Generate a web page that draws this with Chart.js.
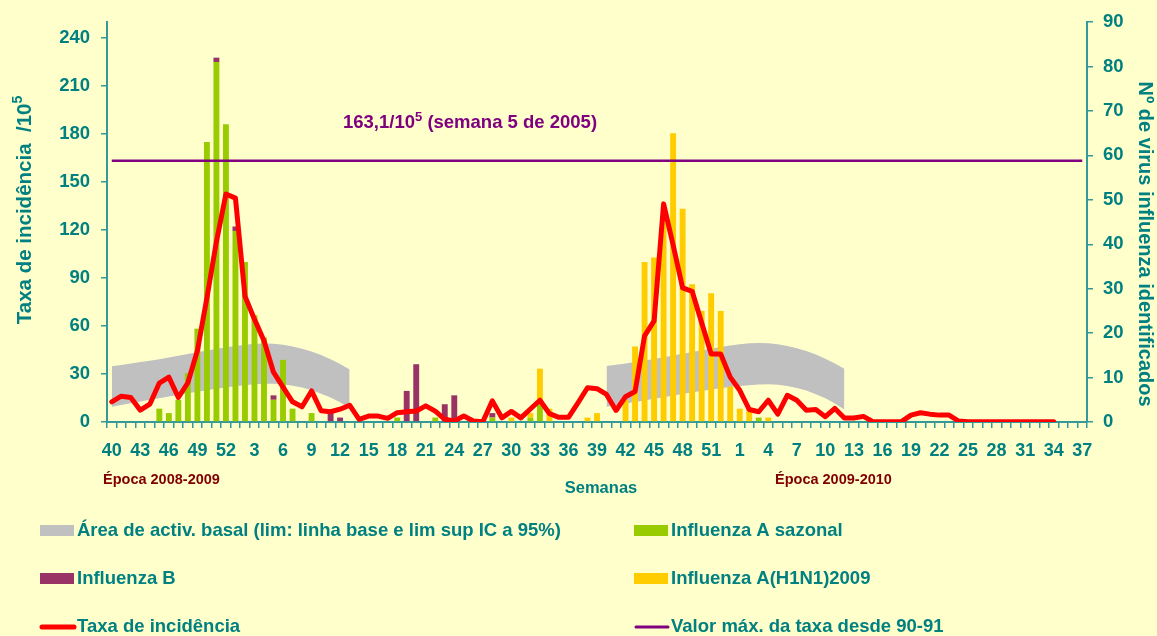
<!DOCTYPE html>
<html>
<head>
<meta charset="utf-8">
<script src="https://cdn.jsdelivr.net/npm/chart.js@4.4.1/dist/chart.umd.min.js"></script>
<style>
  body { margin: 0; background: #FFFFCC; }
  canvas { display: block; }
</style>
</head>
<body>
<canvas id="gripeChart" width="1157" height="636"></canvas>
<script>
// Semanas: 2008 (40-52), 2009 (1-53), 2010 (1-37)
const weeks = [
  40, 41, 42, 43, 44, 45, 46, 47, 48, 49, 50, 51, 52,
  1, 2, 3, 4, 5, 6, 7, 8, 9, 10, 11, 12, 13, 14, 15, 16, 17, 18, 19, 20,
  21, 22, 23, 24, 25, 26, 27, 28, 29, 30, 31, 32, 33, 34, 35, 36, 37, 38, 39, 40,
  41, 42, 43, 44, 45, 46, 47, 48, 49, 50, 51, 52, 53,
  1, 2, 3, 4, 5, 6, 7, 8, 9, 10, 11, 12, 13, 14, 15, 16, 17, 18, 19, 20,
  21, 22, 23, 24, 25, 26, 27, 28, 29, 30, 31, 32, 33, 34, 35, 36, 37
];

// Taxa de incidência /10^5 (eixo esquerdo)
const taxa = [
  12.6, 16.1, 15.3, 7.4, 11.1, 24.3, 28.0, 15.3, 24.5, 44.5, 77.5, 112.6, 142.4,
  139.8, 78.5, 64.1, 50.7, 31.1, 21.8, 12.6, 9.5, 19.4, 7.0,
  6.4, 8.0, 10.5, 1.7, 3.7, 3.7, 2.3, 5.8, 6.4, 6.8,
  10.1, 6.8, 1.7, 0.6, 3.7, 0.6, 0.2, 13.2, 2.6, 6.6,
  2.6, 8.1, 13.6, 5.2, 2.9, 2.9, 12.0, 21.4, 20.8, 17.2,
  7.2, 15.8, 19.0, 53.8, 63.1, 136.2, 110.5, 83.7, 81.6, 62.0,
  42.5, 42.5, 28.0,
  19.8, 7.8, 6.4, 13.6, 4.9, 16.7, 13.6, 7.4, 7.8, 3.3,
  8.5, 2.5, 2.5, 3.5, 0.2, 0.2, 0.2, 0.2, 4.3, 5.8,
  4.9, 4.3, 4.3, 0.6, 0.2, 0.2, 0.2, 0.2, 0.2, 0.2,
  0.2, 0.2, 0.2, 0.2, null, null, null
];

// Nº de vírus identificados (eixo direito)
const fluASazonal = [
  0, 0, 0, 0, 0, 3, 2, 5, 11, 21, 63, 81, 67,
  43, 36, 24, 19, 5, 14, 3, 0, 2, 0,
  0, 0, 0, 0, 0, 0, 0, 1, 0, 0,
  0, 1, 0, 0, 0, 0, 0, 1, 0, 0,
  0, 1, 4, 0, 0, 0, 0, 0, 0, 0,
  0, 0, 0, 0, 0, 0, 0, 0, 0, 0,
  0, 0, 0,
  0, 0, 1, 0, 0, 0, 0, 0, 0, 0,
  0, 0, 0, 0, 0, 0, 0, 0, 0, 0,
  0, 0, 0, 0, 0, 0, 0, 0, 0, 0,
  0, 0, 0, 0, 0, 0, 0
];
const fluB = [
  0, 0, 0, 0, 0, 0, 0, 0, 0, 0, 0, 1, 0,
  1, 0, 0, 0, 1, 0, 0, 0, 0, 0,
  2, 1, 0, 0, 0, 0, 0, 0, 7, 13,
  0, 0, 4, 6, 0, 0, 0, 1, 0, 0,
  0, 0, 0, 0, 0, 0, 0, 0, 0, 0,
  0, 0, 0, 0, 0, 0, 0, 0, 0, 0,
  0, 0, 0,
  0, 0, 0, 0, 0, 0, 0, 0, 0, 0,
  0, 0, 0, 0, 0, 0, 0, 0, 0, 0,
  0, 0, 0, 0, 0, 0, 0, 0, 0, 0,
  0, 0, 0, 0, 0, 0, 0
];
const fluH1N1 = [
  0, 0, 0, 0, 0, 0, 0, 0, 0, 0, 0, 0, 0,
  0, 0, 0, 0, 0, 0, 0, 0, 0, 0,
  0, 0, 0, 0, 0, 0, 0, 0, 0, 0,
  0, 0, 0, 0, 0, 0, 0, 0, 0, 1,
  0, 1, 8, 3, 0, 0, 0, 1, 2, 0,
  0, 5, 17, 36, 37, 46, 65, 48, 31, 25,
  29, 25, 8,
  3, 3, 0, 1, 0, 0, 0, 0, 0, 0,
  0, 0, 0, 0, 0, 0, 0, 0, 0, 0,
  0, 0, 0, 0, 0, 0, 0, 0, 0, 0,
  0, 0, 0, 0, 0, 0, 0
];

// Área de actividade basal (semana 40 a semana 12/13)
const basalInf0809 = [9.5, 10.6, 11.7, 12.8, 13.9, 14.9, 15.9, 16.9, 17.9, 18.9, 19.8, 20.7, 21.5,
  22.3, 23.0, 23.6, 23.9, 23.9, 23.5, 22.7, 21.5, 19.8, 17.7, 15.3, 12.3, 8.5];
const basalSup0809 = [34.8, 35.6, 36.5, 37.4, 38.3, 39.2, 40.2, 41.3, 42.4, 43.5, 44.6, 45.6, 46.6,
  47.4, 48.2, 48.8, 49.0, 48.8, 48.2, 47.2, 45.8, 44.0, 41.8, 39.2, 36.2, 32.8];
const basalInf0910 = [9.5, 10.5, 11.5, 12.5, 13.5, 14.5, 15.5, 16.5, 17.5, 18.5, 19.4, 20.3, 21.1,
  21.8, 22.5, 23.0, 23.4, 23.5, 23.2, 22.5, 21.3, 19.6, 17.4, 14.8, 11.6, 7.8];
const basalSup0910 = [34.9, 35.7, 36.6, 37.5, 38.4, 39.4, 40.4, 41.5, 42.6, 43.7, 44.8, 45.8, 46.8,
  47.7, 48.5, 49.1, 49.3, 49.1, 48.5, 47.5, 46.1, 44.3, 42.1, 39.5, 36.5, 33.2];

const maxTaxa = 163.1; // semana 5 de 2005

const gap1 = new Array(26).fill(null);
const gap2 = new Array(25).fill(null);
const basalInf = [...basalInf0809, ...gap1, ...basalInf0910, ...gap2];
const basalSup = [...basalSup0809, ...gap1, ...basalSup0910, ...gap2];

const TEAL = '#008080';
const AXIS = '#339999';
const FONT = '"Liberation Sans", Arial, sans-serif';

// textos e legenda desenhados à mão
const textPlugin = {
  id: 'textos',
  afterDraw(chart) {
    const c = chart.ctx;
    c.save();
    c.textBaseline = 'middle';

    // título eixo esquerdo (com expoente)
    c.save();
    c.translate(25, 210);
    c.rotate(-Math.PI / 2);
    c.fillStyle = TEAL;
    c.font = 'bold 20.5px ' + FONT;
    let t1 = 'Taxa de incidência  /10';
    let w1 = c.measureText(t1).width;
    c.font = 'bold 14px ' + FONT;
    let w2 = c.measureText('5').width;
    let x0 = -(w1 + w2) / 2;
    c.font = 'bold 20.5px ' + FONT;
    c.textAlign = 'left';
    c.fillText(t1, x0, 0);
    c.font = 'bold 14px ' + FONT;
    c.fillText('5', x0 + w1, -7);
    c.restore();

    // título eixo direito
    c.save();
    c.translate(1145, 244);
    c.rotate(Math.PI / 2);
    c.fillStyle = TEAL;
    c.font = 'bold 20px ' + FONT;
    c.textAlign = 'center';
    c.fillText('Nº de virus influenza identificados', 0, 0);
    c.restore();

    // valor máximo
    c.fillStyle = '#800080';
    c.textAlign = 'left';
    c.font = 'bold 18.5px ' + FONT;
    let a = '163,1/10';
    let aw = c.measureText(a).width;
    c.fillText(a, 343, 123);
    c.font = 'bold 13px ' + FONT;
    c.fillText('5', 343 + aw, 117);
    let sw = c.measureText('5').width;
    c.font = 'bold 18.5px ' + FONT;
    c.fillText(' (semana 5 de 2005)', 343 + aw + sw, 123);

    // épocas e semanas
    c.fillStyle = '#800000';
    c.font = 'bold 14.5px ' + FONT;
    c.fillText('Época 2008-2009', 103, 480);
    c.fillText('Época 2009-2010', 775, 480);
    c.fillStyle = TEAL;
    c.font = 'bold 16.5px ' + FONT;
    c.textAlign = 'center';
    c.fillText('Semanas', 601, 488);

    // legenda
    const items = [
      { x: 40, y: 531, kind: 'box', color: '#C0C0C0', text: 'Área de activ. basal (lim: linha base e lim sup IC a 95%)' },
      { x: 634, y: 531, kind: 'box', color: '#99CC00', text: 'Influenza A sazonal' },
      { x: 40, y: 579, kind: 'box', color: '#993366', text: 'Influenza B' },
      { x: 634, y: 579, kind: 'box', color: '#FFCC00', text: 'Influenza A(H1N1)2009' },
      { x: 40, y: 627, kind: 'line', color: '#FF0000', lw: 5, text: 'Taxa de incidência' },
      { x: 634, y: 627, kind: 'line', color: '#800080', lw: 3, text: 'Valor máx. da taxa desde 90-91' }
    ];
    c.textAlign = 'left';
    c.font = 'bold 18.5px ' + FONT;
    items.forEach(it => {
      if (it.kind === 'box') {
        c.fillStyle = it.color;
        c.fillRect(it.x, it.y - 6, 34, 11);
      } else {
        c.strokeStyle = it.color;
        c.lineWidth = it.lw;
        c.lineCap = 'round';
        c.beginPath();
        c.moveTo(it.x + 2, it.y);
        c.lineTo(it.x + 34, it.y);
        c.stroke();
      }
      c.fillStyle = TEAL;
      c.fillText(it.text, it.x + 37, it.y);
    });
    c.restore();
  }
};

const ctx = document.getElementById('gripeChart').getContext('2d');
const gripeChart = new Chart(ctx, {
  type: 'bar',
  data: {
    labels: weeks,
    datasets: [
      {
        type: 'line', label: 'basal inf', data: basalInf, yAxisID: 'y',
        borderColor: 'rgba(0,0,0,0)', borderWidth: 0, pointRadius: 0, fill: false, order: 4
      },
      {
        type: 'line', label: 'Área de activ. basal', data: basalSup, yAxisID: 'y',
        borderColor: 'rgba(0,0,0,0)', borderWidth: 0, pointRadius: 0,
        backgroundColor: '#C0C0C0', fill: '-1', order: 4
      },
      {
        label: 'Influenza A sazonal', data: fluASazonal, yAxisID: 'y1',
        backgroundColor: '#99CC00', order: 3
      },
      {
        label: 'Influenza B', data: fluB, yAxisID: 'y1',
        backgroundColor: '#993366', order: 3
      },
      {
        label: 'Influenza A(H1N1)2009', data: fluH1N1, yAxisID: 'y1',
        backgroundColor: '#FFCC00', order: 3
      },
      {
        type: 'line', label: 'Valor máx. da taxa desde 90-91', data: weeks.map(() => maxTaxa), yAxisID: 'y',
        borderColor: '#800080', borderWidth: 2.5, pointRadius: 0, fill: false, order: 1
      },
      {
        type: 'line', label: 'Taxa de incidência', data: taxa, yAxisID: 'y',
        borderColor: '#FF0000', borderWidth: 5, pointRadius: 0, fill: false, tension: 0,
        borderJoinStyle: 'round', borderCapStyle: 'round', order: 0
      }
    ]
  },
  options: {
    responsive: false,
    animation: false,
    layout: { padding: { top: 19, left: 0, right: 0, bottom: 0 } },
    datasets: {
      bar: { categoryPercentage: 1, barPercentage: 0.62 }
    },
    scales: {
      x: {
        stacked: true,
        grid: { offset: true, drawOnChartArea: false, color: AXIS, tickLength: 6, lineWidth: 1.5 },
        border: { color: AXIS, width: 2 },
        ticks: {
          autoSkip: false, maxRotation: 0, minRotation: 0, padding: 12,
          color: TEAL, font: { family: FONT, size: 18, weight: 'bold' },
          callback: (v, i) => (i % 3 === 0 ? weeks[i] : '')
        },
        afterFit: s => { s.height = 214; }
      },
      y: {
        position: 'left', min: 0, max: 249.7,
        grid: { drawOnChartArea: false, color: AXIS, tickLength: 6, lineWidth: 1.5 },
        border: { color: AXIS, width: 2 },
        ticks: {
          stepSize: 30, includeBounds: false, padding: 11,
          color: TEAL, font: { family: FONT, size: 18.5, weight: 'bold' }
        },
        afterFit: s => { s.width = 107; }
      },
      y1: {
        position: 'right', stacked: true, min: 0, max: 90,
        grid: { drawOnChartArea: false, color: AXIS, tickLength: 6, lineWidth: 1.5 },
        border: { color: AXIS, width: 2 },
        ticks: {
          stepSize: 10, padding: 10,
          color: TEAL, font: { family: FONT, size: 18.5, weight: 'bold' }
        },
        afterFit: s => { s.width = 70; }
      }
    },
    plugins: {
      legend: { display: false },
      tooltip: { enabled: false }
    }
  },
  plugins: [textPlugin]
});
</script>
</body>
</html>
